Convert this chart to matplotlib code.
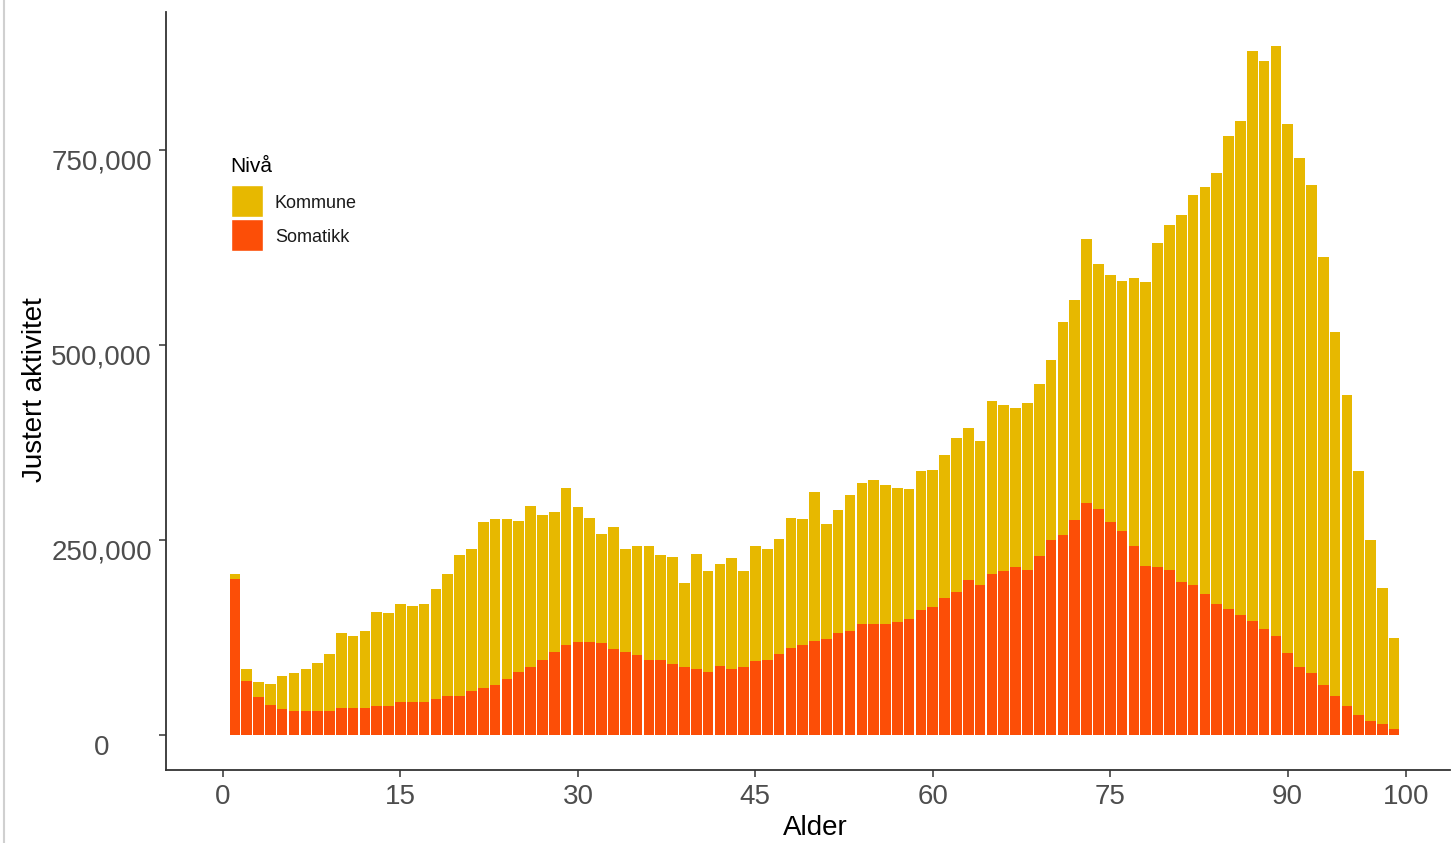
import matplotlib
matplotlib.use("Agg")
import matplotlib.pyplot as plt
from matplotlib.patches import Rectangle
from matplotlib.lines import Line2D
from matplotlib.ticker import FuncFormatter
from matplotlib.transforms import ScaledTranslation
import numpy as np

plt.rcParams['font.family'] = ['Liberation Sans', 'DejaVu Sans']

# ---- data (values in thousands) ----
ages = list(range(1, 100))
somatikk_k = [
    200, 69.6, 48.3, 38.9, 33.3, 31.2, 31.2, 31.2, 31.2, 34.6,
    34.6, 34.6, 37.2, 37.2, 42.7, 42.7, 42.7, 46.5, 50.4, 50.4,
    56.4, 59.8, 63.7, 71.4, 81.2, 86.8, 96.6, 106, 115.8, 119.6,
    119.6, 117.9, 109.9, 106, 102.2, 96.6, 96.6, 90.6, 86.8, 85,
    81.2, 88.9, 85, 86.8, 94.5, 96.6, 104.3, 112, 115.8, 120.9,
    123.1, 130.8, 132.9, 142.3, 142.3, 142.3, 144.4, 148.3, 159.8, 163.7,
    175.3, 182.9, 198.3, 192.3, 206, 209.8, 215.4, 212, 229.1, 250,
    256, 275.2, 297.8, 290.3, 273.3, 261.5, 242.3, 217.1, 215.4, 211.9,
    196.2, 192.3, 180.8, 167.5, 161.5, 153.8, 146.2, 136.3, 126.9, 104.7,
    86.8, 79.1, 63.7, 50.4, 37.2, 25.2, 17.5, 13.7, 7.7,
]
kommune_k = [
    7, 15, 19.2, 26.9, 41.9, 47.9, 53.4, 61.5, 73.1, 96.6,
    92.7, 98.3, 120.5, 118.8, 124.8, 122.7, 124.8, 140.3, 155.6, 180.4,
    182.1, 213.2, 213.2, 205.5, 193.6, 207.2, 185.9, 180.3, 201.2, 172.3,
    159, 139.8, 157.1, 132.5, 140.1, 145.7, 134.2, 138, 107.7, 147.4,
    128.6, 130.3, 141.9, 123, 147.8, 141.9, 147.4, 166.6, 161.1, 190.2,
    147.8, 157.2, 174.8, 180.4, 184.2, 178.6, 172.6, 166.6, 178.2, 176.5,
    183.7, 197.5, 195.3, 184.2, 222.6, 213.3, 203.4, 213, 220.9, 230.4,
    273.9, 282.1, 338.1, 313.2, 316, 321, 343.2, 363.3, 414.9, 441.5,
    470.5, 499.7, 522.2, 552.6, 606.5, 633.8, 731.1, 728.2, 756.4, 678.6,
    652.5, 625.6, 548.7, 466.6, 398.7, 313.3, 232.5, 175.1, 117,
]
x_ticks = [0, 15, 30, 45, 60, 75, 90, 100]
y_ticks = [0, 250000, 500000, 750000]
series_names = ["Kommune", "Somatikk"]
colors = {"Kommune": "#E7B800", "Somatikk": "#FC4E07"}

somatikk = np.array(somatikk_k) * 1000
kommune = np.array(kommune_k) * 1000

W, H = 1453, 843
fig = plt.figure(figsize=(W / 100, H / 100), dpi=100)
ax = fig.add_axes([166 / W, 1 - 770 / H, (1450 - 166) / W, (770 - 12) / H])

ax.bar(ages, somatikk, width=0.9, color=colors["Somatikk"], linewidth=0)
ax.bar(ages, kommune, bottom=somatikk, width=0.9, color=colors["Kommune"], linewidth=0)

ax.set_xlim(-4.82, 103.72)
ax.set_ylim(-44900, 926900)
ax.set_xticks(x_ticks)
ax.set_yticks(y_ticks)
ax.yaxis.set_major_formatter(FuncFormatter(lambda v, p: f"{int(v):,}"))

for s in ["top", "right"]:
    ax.spines[s].set_visible(False)
for s in ["left", "bottom"]:
    ax.spines[s].set_color("#333333")
    ax.spines[s].set_linewidth(1.3)
ax.tick_params(axis="both", colors="#333333", length=5, width=1.1,
               labelsize=20, labelcolor="#4D4D4D")
ax.tick_params(axis="x", pad=5)
# y tick labels centred at x ~ 101.7 px, sitting ~10 px below their ticks
ypad_px = 166 - 101.7 - 5 * 100 / 72
ax.tick_params(axis="y", pad=ypad_px * 72 / 100)
for lbl in ax.get_yticklabels():
    lbl.set_horizontalalignment("center")
    lbl.set_transform(lbl.get_transform() + ScaledTranslation(0, -10 / 100, fig.dpi_scale_trans))

ax.set_xlabel("Alder", fontsize=20, color="black")
ax.xaxis.set_label_coords((815 - 166) / (1450 - 166), (770 - 815) / (770 - 12))
ax.set_ylabel("Justert aktivitet", fontsize=20, color="black")
ax.yaxis.set_label_coords((48 - 166) / (1450 - 166), (770 - 390) / (770 - 12))

# legend (manual, ggplot-like)
fig.text(230 / W, 1 - 166 / H, "Nivå", fontsize=15, va="center", ha="left")
key_tops = [185, 219]
for name, top in zip(series_names, key_tops):
    fig.patches.append(Rectangle((231 / W, 1 - (top + 32) / H), 32 / W, 32 / H,
                                 transform=fig.transFigure, facecolor=colors[name],
                                 edgecolor="white", linewidth=1))
    fig.text(275 / W, 1 - (top + 19) / H, name, fontsize=13, va="center", ha="left",
             color="#1a1a1a")

# left screenshot border
fig.lines.append(Line2D([4 / W, 4 / W], [0, 1], transform=fig.transFigure,
                        color="#d0d0d0", linewidth=1.5))

fig.savefig("out.png", dpi=100)
